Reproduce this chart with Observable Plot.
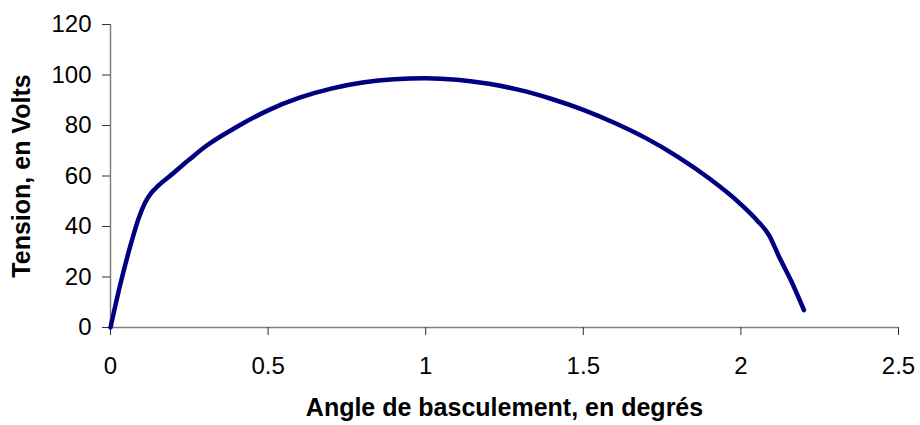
<!DOCTYPE html>
<html>
<head>
<meta charset="utf-8">
<script src="https://cdn.jsdelivr.net/npm/d3@7"></script>
<script src="https://cdn.jsdelivr.net/npm/@observablehq/plot@0.6"></script>
<style>
  html, body { margin: 0; padding: 0; background: #fff; }
  #chart svg { display: block; }
</style>
</head>
<body>
<div id="chart"></div>
<script>
// Angle de basculement (degrés) and Tension (Volts)
const angle = [0, 0.03, 0.06, 0.09, 0.11, 0.13, 0.15, 0.2, 0.25, 0.3, 0.4, 0.5, 0.6, 0.7, 0.8, 0.9, 1.0, 1.1, 1.2, 1.3, 1.4, 1.5, 1.6, 1.7, 1.8, 1.9, 2.0, 2.05, 2.09, 2.12, 2.16, 2.2];
const tension = [0, 16.5, 31, 43.5, 49.5, 53.4, 56.0, 61.2, 66.5, 71.6, 79.4, 86.0, 91.0, 94.6, 97.0, 98.3, 98.7, 98.1, 96.5, 94.0, 90.5, 86.2, 81.0, 74.9, 67.6, 59.0, 48.8, 42.6, 36.4, 28.3, 18.3, 6.9];
const xTicks = [0, 0.5, 1, 1.5, 2, 2.5];
const yTicks = [0, 20, 40, 60, 80, 100, 120];
const xTitle = "Angle de basculement, en degrés";
const yTitle = "Tension, en Volts";

const data = angle.map((a, i) => ({angle: a, tension: tension[i]}));

const chart = Plot.plot({
  width: 920,
  height: 425,
  marginLeft: 110,
  marginRight: 22,
  marginTop: 24,
  marginBottom: 98,
  style: {fontFamily: "'Liberation Sans', Arial, sans-serif", color: "#000", background: "#fff"},
  x: {domain: [0, 2.5]},
  y: {domain: [0, 120]},
  marks: [
    Plot.ruleY([0], {stroke: "#808080", strokeWidth: 1.5}),
    Plot.ruleX([0], {stroke: "#808080", strokeWidth: 1.5}),
    Plot.axisX({
      ticks: xTicks, tickFormat: d => String(d), tickSize: 8, tickPadding: 21,
      stroke: "#333", fontSize: 24,
      label: xTitle, labelAnchor: "center", labelOffset: 88, labelArrow: "none"
    }),
    Plot.axisY({
      ticks: yTicks, tickFormat: d => String(d), tickSize: 8, tickPadding: 11,
      stroke: "#333", fontSize: 24,
      label: yTitle, labelAnchor: "center", labelOffset: 98, labelArrow: "none"
    }),
    Plot.line(data, {x: "angle", y: "tension", stroke: "#000080", strokeWidth: 4.5, curve: "monotone-x", strokeLinecap: "round", strokeLinejoin: "round"})
  ]
});

// make axis titles bold and sized like the reference
chart.querySelectorAll("g[aria-label='x-axis label'] text, g[aria-label='y-axis label'] text").forEach(t => {
  t.setAttribute("font-weight", "bold");
  t.setAttribute("font-size", "25");
});
document.getElementById("chart").appendChild(chart);
</script>
</body>
</html>
